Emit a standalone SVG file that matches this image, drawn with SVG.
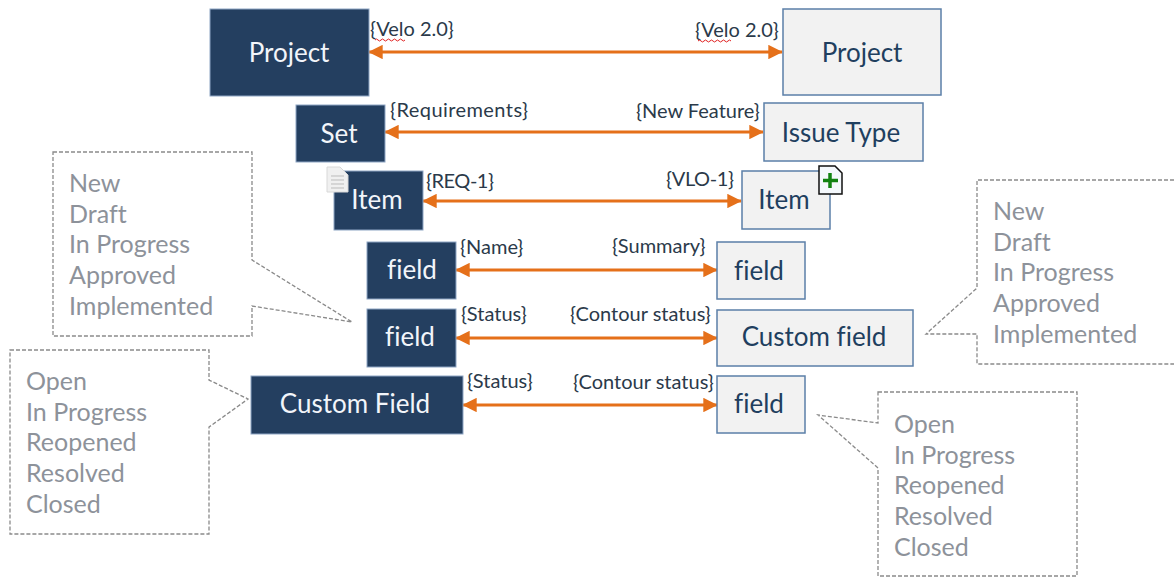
<svg xmlns="http://www.w3.org/2000/svg" width="1174" height="577" viewBox="0 0 1174 577">
<style>
text{font-family:Lato,"Open Sans","Liberation Sans",sans-serif;font-variant-ligatures:none}
.d{fill:#243f60;stroke:#8ea6c4;stroke-width:1}
.l{fill:#f2f2f2;stroke:#5b7fa8;stroke-width:1.5}
.w{fill:#f2f5fa;font-size:26px;text-anchor:middle}
.k{fill:#1f3f5f;font-size:26px;text-anchor:middle}
.s{fill:#2b3a4a;font-size:20px}
.c{fill:#fff;stroke:#8a8a8a;stroke-width:1.3;stroke-dasharray:4 2}
.t{fill:#8d929a;font-size:25px}
.a{stroke:#e5701a;stroke-width:3;fill:none;marker-start:url(#m);marker-end:url(#m)}
</style>
<defs><marker id="m" viewBox="0 0 10 10" refX="9.500" refY="5" markerWidth="4.800" markerHeight="4.800" orient="auto-start-reverse"><path d="M0 0L10 5L0 10z" fill="#e5701a"/></marker></defs>
<g id="connectors">
<path class="a" d="M369 52H782"/>
<path class="a" d="M385 132H763"/>
<path class="a" d="M423 201H741"/>
<path class="a" d="M456 270H717"/>
<path class="a" d="M456 338H717"/>
<path class="a" d="M463 405H717"/>
</g>
<g id="n1"><rect class="d" x="210" y="9" width="159" height="87"/><text class="w" x="289" y="62">Project</text></g>
<g id="n2"><rect class="l" x="783" y="9" width="158" height="86"/><text class="k" x="862" y="62">Project</text></g>
<g id="n3"><rect class="d" x="296" y="105" width="89" height="57"/><text class="w" x="339" y="143">Set</text></g>
<g id="n4"><rect class="l" x="764" y="103" width="159" height="58"/><text class="k" x="841" y="142">Issue Type</text></g>
<g id="n5"><rect class="d" x="334" y="171" width="89" height="59"/><text class="w" x="377" y="209">Item</text>
<path d="M327 167H340L348 175V192H327z" fill="#f0f0f0" stroke="#d8d8d8"/><path d="M331 176H344M331 180H344M331 184H344M331 188H344" stroke="#bbb"/></g>
<g id="n6"><rect class="l" x="742" y="171" width="88" height="58"/><text class="k" x="784" y="209">Item</text>
<path d="M819 166H835L842 173V194H819z" fill="#f4f8fc" stroke="#111" stroke-width="1.500"/><path d="M830 173V188M823 180.500H838" stroke="#128212" stroke-width="3.500"/></g>
<g id="n7"><rect class="d" x="367" y="242" width="89" height="57"/><text class="w" x="412" y="279">field</text></g>
<g id="n8"><rect class="l" x="717" y="242" width="88" height="57"/><text class="k" x="759" y="280">field</text></g>
<g id="n9"><rect class="d" x="367" y="309" width="89" height="58"/><text class="w" x="410" y="346">field</text></g>
<g id="n10"><rect class="l" x="717" y="310" width="196" height="56"/><text class="k" x="814" y="346">Custom field</text></g>
<g id="n11"><rect class="d" x="251" y="376" width="212" height="58"/><text class="w" x="355" y="413">Custom Field</text></g>
<g id="n12"><rect class="l" x="717" y="376" width="88" height="57"/><text class="k" x="759" y="413">field</text></g>
<g id="labels">
<text class="s" x="370" y="36">{Velo 2.0}</text><path d="M375 40q1.500 -2 3 0t3 0t3 0t3 0t3 0t3 0t3 0t3 0t3 0t3 0" stroke="#e02020" fill="none"/>
<text class="s" x="695" y="37">{Velo 2.0}</text><path d="M698 41q1.500 -2 3 0t3 0t3 0t3 0t3 0t3 0t3 0t3 0t3 0t3 0t3 0" stroke="#e02020" fill="none"/>
<text class="s" x="390" y="117" textLength="138">{Requirements}</text>
<text class="s" x="636" y="118">{New Feature}</text>
<text class="s" x="426" y="188" textLength="68">{REQ-1}</text>
<text class="s" x="666" y="186" textLength="68">{VLO-1}</text>
<text class="s" x="460" y="254">{Name}</text>
<text class="s" x="612" y="253">{Summary}</text>
<text class="s" x="461" y="321">{Status}</text>
<text class="s" x="570" y="321">{Contour status}</text>
<text class="s" x="467" y="388">{Status}</text>
<text class="s" x="573" y="389">{Contour status}</text>
</g>
<g id="callout1"><path class="c" d="M53 152H252V260L352 322L252 306V336H53z"/><text class="t"><tspan x="69" y="192">New</tspan><tspan x="69" y="223">Draft</tspan><tspan x="69" y="253">In Progress</tspan><tspan x="69" y="284">Approved</tspan><tspan x="69" y="315">Implemented</tspan></text></g>
<g id="callout2"><path class="c" d="M1174 180H977V288L926 334H977V364H1174"/><text class="t"><tspan x="993" y="220">New</tspan><tspan x="993" y="251">Draft</tspan><tspan x="993" y="281">In Progress</tspan><tspan x="993" y="312">Approved</tspan><tspan x="993" y="343">Implemented</tspan></text></g>
<g id="callout3"><path class="c" d="M10 350H209V380L248 399L209 427V534H10z"/><text class="t"><tspan x="26" y="390">Open</tspan><tspan x="26" y="421">In Progress</tspan><tspan x="26" y="451">Reopened</tspan><tspan x="26" y="482">Resolved</tspan><tspan x="26" y="513">Closed</tspan></text></g>
<g id="callout4"><path class="c" d="M878 392H1077V576H878V468L818 415L878 423z"/><text class="t"><tspan x="894" y="433">Open</tspan><tspan x="894" y="464">In Progress</tspan><tspan x="894" y="494">Reopened</tspan><tspan x="894" y="525">Resolved</tspan><tspan x="894" y="556">Closed</tspan></text></g>
</svg>
